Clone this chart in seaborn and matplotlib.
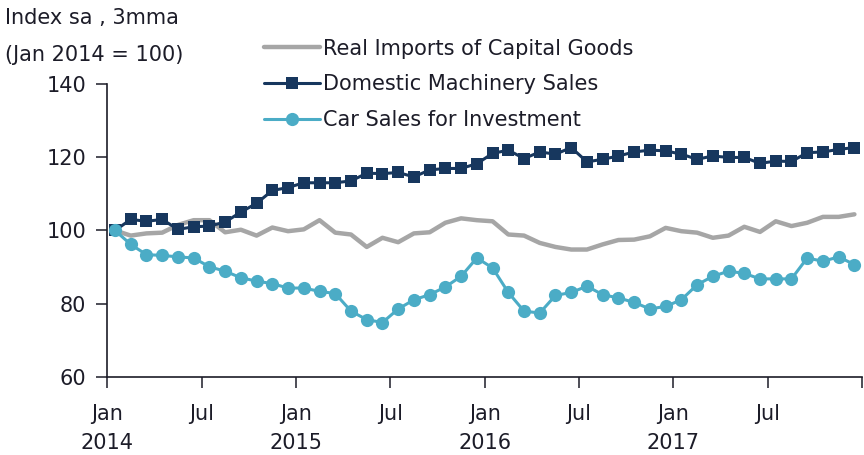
import numpy as np
import pandas as pd
import seaborn as sns
import matplotlib.pyplot as plt

# monthly index values, Jan 2014 .. Dec 2017 (Jan 2014 = 100)
months = pd.period_range("2014-01", "2017-12", freq="M").astype(str).tolist()

real_imports = [100, 98.6, 99.2, 99.4, 101.5, 102.8, 102.8, 99.5, 100.2, 98.6, 100.8, 99.8,
                100.3, 102.8, 99.4, 98.9, 95.5, 98.0, 96.8, 99.2, 99.5, 102.1, 103.3, 102.8,
                102.5, 98.9, 98.6, 96.6, 95.5, 94.8, 94.8, 96.2, 97.4, 97.5, 98.4, 100.7,
                99.8, 99.4, 98.0, 98.6, 101.0, 99.6, 102.5, 101.2, 102.1, 103.7, 103.7, 104.4]

machinery = [100, 103.0, 102.5, 103.0, 100.3, 101.0, 101.2, 102.3, 105.0, 107.4, 110.9, 111.7,
             113.0, 113.0, 113.0, 113.5, 115.6, 115.5, 115.8, 114.6, 116.5, 116.9, 116.9, 118.2,
             121.0, 121.9, 119.6, 121.4, 120.8, 122.6, 118.7, 119.4, 120.3, 121.4, 121.9, 121.7,
             120.8, 119.4, 120.3, 119.9, 119.9, 118.3, 118.9, 118.8, 121.2, 121.4, 122.1, 122.6]

car_sales = [100, 96.2, 93.4, 93.2, 92.8, 92.5, 90.1, 88.9, 87.1, 86.2, 85.5, 84.3,
             84.3, 83.4, 82.8, 78.0, 75.7, 74.9, 78.6, 81.1, 82.5, 84.6, 87.5, 92.5,
             89.8, 83.1, 78.0, 77.5, 82.3, 83.1, 84.8, 82.5, 81.6, 80.4, 78.6, 79.3,
             81.1, 85.2, 87.5, 88.9, 88.3, 86.8, 86.8, 86.8, 92.5, 91.6, 92.8, 90.7]

tick_labels = ["Jan\n2014", "Jul", "Jan\n2015", "Jul", "Jan\n2016", "Jul", "Jan\n2017", "Jul", ""]

sns.set_style("ticks")
plt.rcParams["font.family"] = ["DejaVu Sans"]
plt.rcParams["text.color"] = "#1c1c28"

# points sit in the middle of each month
x = np.arange(len(months)) + 0.5

fig = plt.figure(figsize=(8.64, 4.55), dpi=100)
ax = fig.add_axes([0.124, 0.171, 0.874, 0.645])

sns.lineplot(x=x, y=real_imports, ax=ax, color="#a6a6a6", linewidth=3.2,
             label="Real Imports of Capital Goods")
sns.lineplot(x=x, y=machinery, ax=ax, color="#17375e", linewidth=2.2,
             marker="s", markersize=8, markeredgewidth=0,
             label="Domestic Machinery Sales")
sns.lineplot(x=x, y=car_sales, ax=ax, color="#4bacc6", linewidth=2.2,
             marker="o", markersize=9.5, markeredgewidth=0,
             label="Car Sales for Investment")

ax.set_xlim(0, 48)
ax.set_ylim(60, 140)
ax.set_xticks(np.arange(0, 49, 6))
ax.set_xticklabels(tick_labels, fontsize=15, linespacing=1.6)
ax.set_yticks([60, 80, 100, 120, 140])
ax.tick_params(axis="y", labelsize=15, length=8, width=1.1, pad=7, colors="#1c1c28")
ax.tick_params(axis="x", length=8, width=1.1, pad=11, colors="#1c1c28")
for s in ["top", "right"]:
    ax.spines[s].set_visible(False)
for s in ["left", "bottom"]:
    ax.spines[s].set_linewidth(1.2)
    ax.spines[s].set_color("#1c1c28")

ax.legend(loc="upper left", bbox_to_anchor=(0.306, 0.915), bbox_transform=fig.transFigure,
          frameon=False, fontsize=15, handlelength=2.65, handletextpad=0.15,
          labelspacing=0.75, borderpad=0, borderaxespad=0)

fig.text(0.006, 0.96, "Index sa , 3mma", fontsize=15, va="center", ha="left")
fig.text(0.006, 0.88, "(Jan 2014 = 100)", fontsize=15, va="center", ha="left")

fig.savefig("out.png", dpi=100)
